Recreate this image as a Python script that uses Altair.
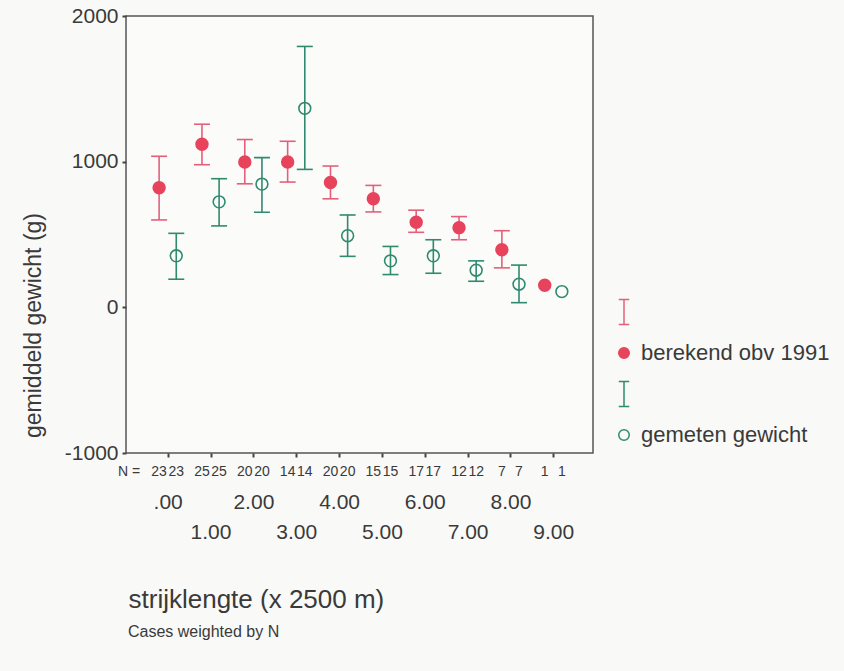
import json
import altair as alt
import pandas as pd

# ---- data ----
cats = [0, 1, 2, 3, 4, 5, 6, 7, 8, 9]
x_labels = [".00", "1.00", "2.00", "3.00", "4.00", "5.00", "6.00", "7.00", "8.00", "9.00"]
n_cases = [23, 25, 20, 14, 20, 15, 17, 12, 7, 1]

ber_mean = [821, 1119, 998, 998, 857, 745, 584, 547, 395, 152]
ber_lo = [600, 979, 848, 860, 745, 655, 515, 464, 271, None]
ber_hi = [1037, 1257, 1152, 1140, 970, 837, 667, 623, 526, None]

gem_mean = [354, 724, 846, 1366, 492, 319, 354, 255, 159, 108]
gem_lo = [193, 559, 653, 947, 350, 225, 234, 179, 32, None]
gem_hi = [508, 883, 1028, 1791, 634, 418, 464, 319, 290, None]

BER = "berekend obv 1991"
GEM = "gemeten gewicht"

RED = "#e8435c"
RED_BAR = "#e4607a"
GREEN = "#2f8a70"
TEXT = "#3a3a3a"
FONT = "Liberation Sans"

rows = []
for i, c in enumerate(cats):
    rows.append(dict(cat=c, series=BER, mean=ber_mean[i], lo=ber_lo[i], hi=ber_hi[i], n=n_cases[i]))
    rows.append(dict(cat=c, series=GEM, mean=gem_mean[i], lo=gem_lo[i], hi=gem_hi[i], n=n_cases[i]))
df = pd.DataFrame(rows)

base = alt.Chart(df).transform_calculate(
    xpos=f"datum.cat + (datum.series == '{BER}' ? -0.2 : 0.2)"
)

lab_js = json.dumps(x_labels)
x_axis = alt.Axis(
    values=cats,
    labelExpr=f"datum.value % 2 == 0 ? [{lab_js}[datum.value], ' '] : [' ', {lab_js}[datum.value]]",
    labelFont=FONT, labelFontSize=21, labelColor=TEXT, labelLineHeight=30,
    labelBaseline="top", labelPadding=34, labelFlush=False, labelOverlap=False,
    tickSize=4, tickWidth=2, tickColor="#444", domain=False, grid=False,
    title="strijklengte (x 2500 m)", titleFont=FONT, titleFontSize=26,
    titleFontWeight="normal", titleColor=TEXT, titleAnchor="start", titleAlign="left",
    titleBaseline="middle", titleX=2, titleY=146,
)
x_scale = alt.Scale(domain=[-0.973, 9.927], nice=False, zero=False)
X = alt.X("xpos:Q", scale=x_scale, axis=x_axis)

y_axis = alt.Axis(
    values=[-1000, 0, 1000, 2000], labelExpr="'' + datum.value",
    labelFont=FONT, labelFontSize=21, labelColor=TEXT, labelPadding=4,
    tickSize=4, tickWidth=2, tickColor="#444", domain=False, grid=False,
    title="gemiddeld gewicht (g)", titleFont=FONT, titleFontSize=23,
    titleFontWeight="normal", titleColor=TEXT, titleAngle=270,
    titleAlign="center", titleBaseline="middle", titleX=-93, titleY=309,
)
y_scale = alt.Scale(domain=[-1000, 2000], nice=False, zero=False)

bar_color = alt.Color("series:N", scale=alt.Scale(domain=[BER, GEM], range=[RED_BAR, GREEN]), legend=None)

rules = base.transform_filter("isValid(datum.lo)").mark_rule(strokeWidth=1.6).encode(
    x=X,
    y=alt.Y("lo:Q", scale=y_scale, axis=y_axis),
    y2="hi:Q",
    color=bar_color,
)

caps = base.transform_filter("isValid(datum.lo)").transform_fold(
    ["lo", "hi"], as_=["end", "val"]
).mark_tick(orient="horizontal", size=16, thickness=1.6, opacity=1).encode(
    x=X,
    y=alt.Y("val:Q", scale=y_scale, axis=y_axis),
    color=bar_color,
)

leg_domain = ["ci_b", BER, "ci_g", GEM]
ibeam = "M-1,-2.4H1M0,-2.4V2.4M-1,2.4H1"
legend = alt.Legend(
    title=None, orient="none", legendX=487, legendY=285,
    labelExpr="indexof(datum.label, 'ci_') == 0 ? '' : datum.label",
    labelFont=FONT, labelFontSize=22, labelColor=TEXT, labelOffset=6, labelLimit=0,
    symbolSize=110, symbolStrokeWidth=1.5, rowPadding=14, padding=0,
)

points = base.mark_point(size=140, strokeWidth=1.6, opacity=1, fillOpacity=1).encode(
    x=X,
    y=alt.Y("mean:Q", scale=y_scale, axis=y_axis),
    stroke=alt.Stroke("series:N", scale=alt.Scale(domain=leg_domain, range=[RED_BAR, RED, GREEN, GREEN]), legend=legend),
    fill=alt.Fill("series:N", scale=alt.Scale(domain=leg_domain, range=["transparent", RED, "transparent", "transparent"]), legend=legend),
    shape=alt.Shape("series:N", scale=alt.Scale(domain=leg_domain, range=[ibeam, "circle", ibeam, "circle"]), legend=legend),
)

ntext = base.mark_text(font=FONT, fontSize=14, color=TEXT, baseline="middle").encode(
    x=X,
    y=alt.value(456),
    text="n:N",
)

nlabel = alt.Chart(pd.DataFrame({"t": ["N ="]})).mark_text(
    font=FONT, fontSize=14, color=TEXT, baseline="middle", align="center"
).encode(x=alt.value(3), y=alt.value(456), text="t:N")

chart = alt.layer(rules, caps, points, ntext, nlabel).properties(
    width=467,
    height=437,
    autosize=alt.AutoSizeParams(type="none"),
    padding={"left": 126, "top": 16, "right": 251, "bottom": 218},
    background="#f9f9f7",
    title=alt.TitleParams(
        "Cases weighted by N", orient="bottom", anchor="start", frame="group",
        font=FONT, fontSize=16, fontWeight="normal", color=TEXT, offset=12, dx=2,
    ),
).configure_view(stroke="#555", strokeWidth=1.5, fill="#fbfbfa")

chart.save("out.html", embed_options={"renderer": "svg", "actions": False})
